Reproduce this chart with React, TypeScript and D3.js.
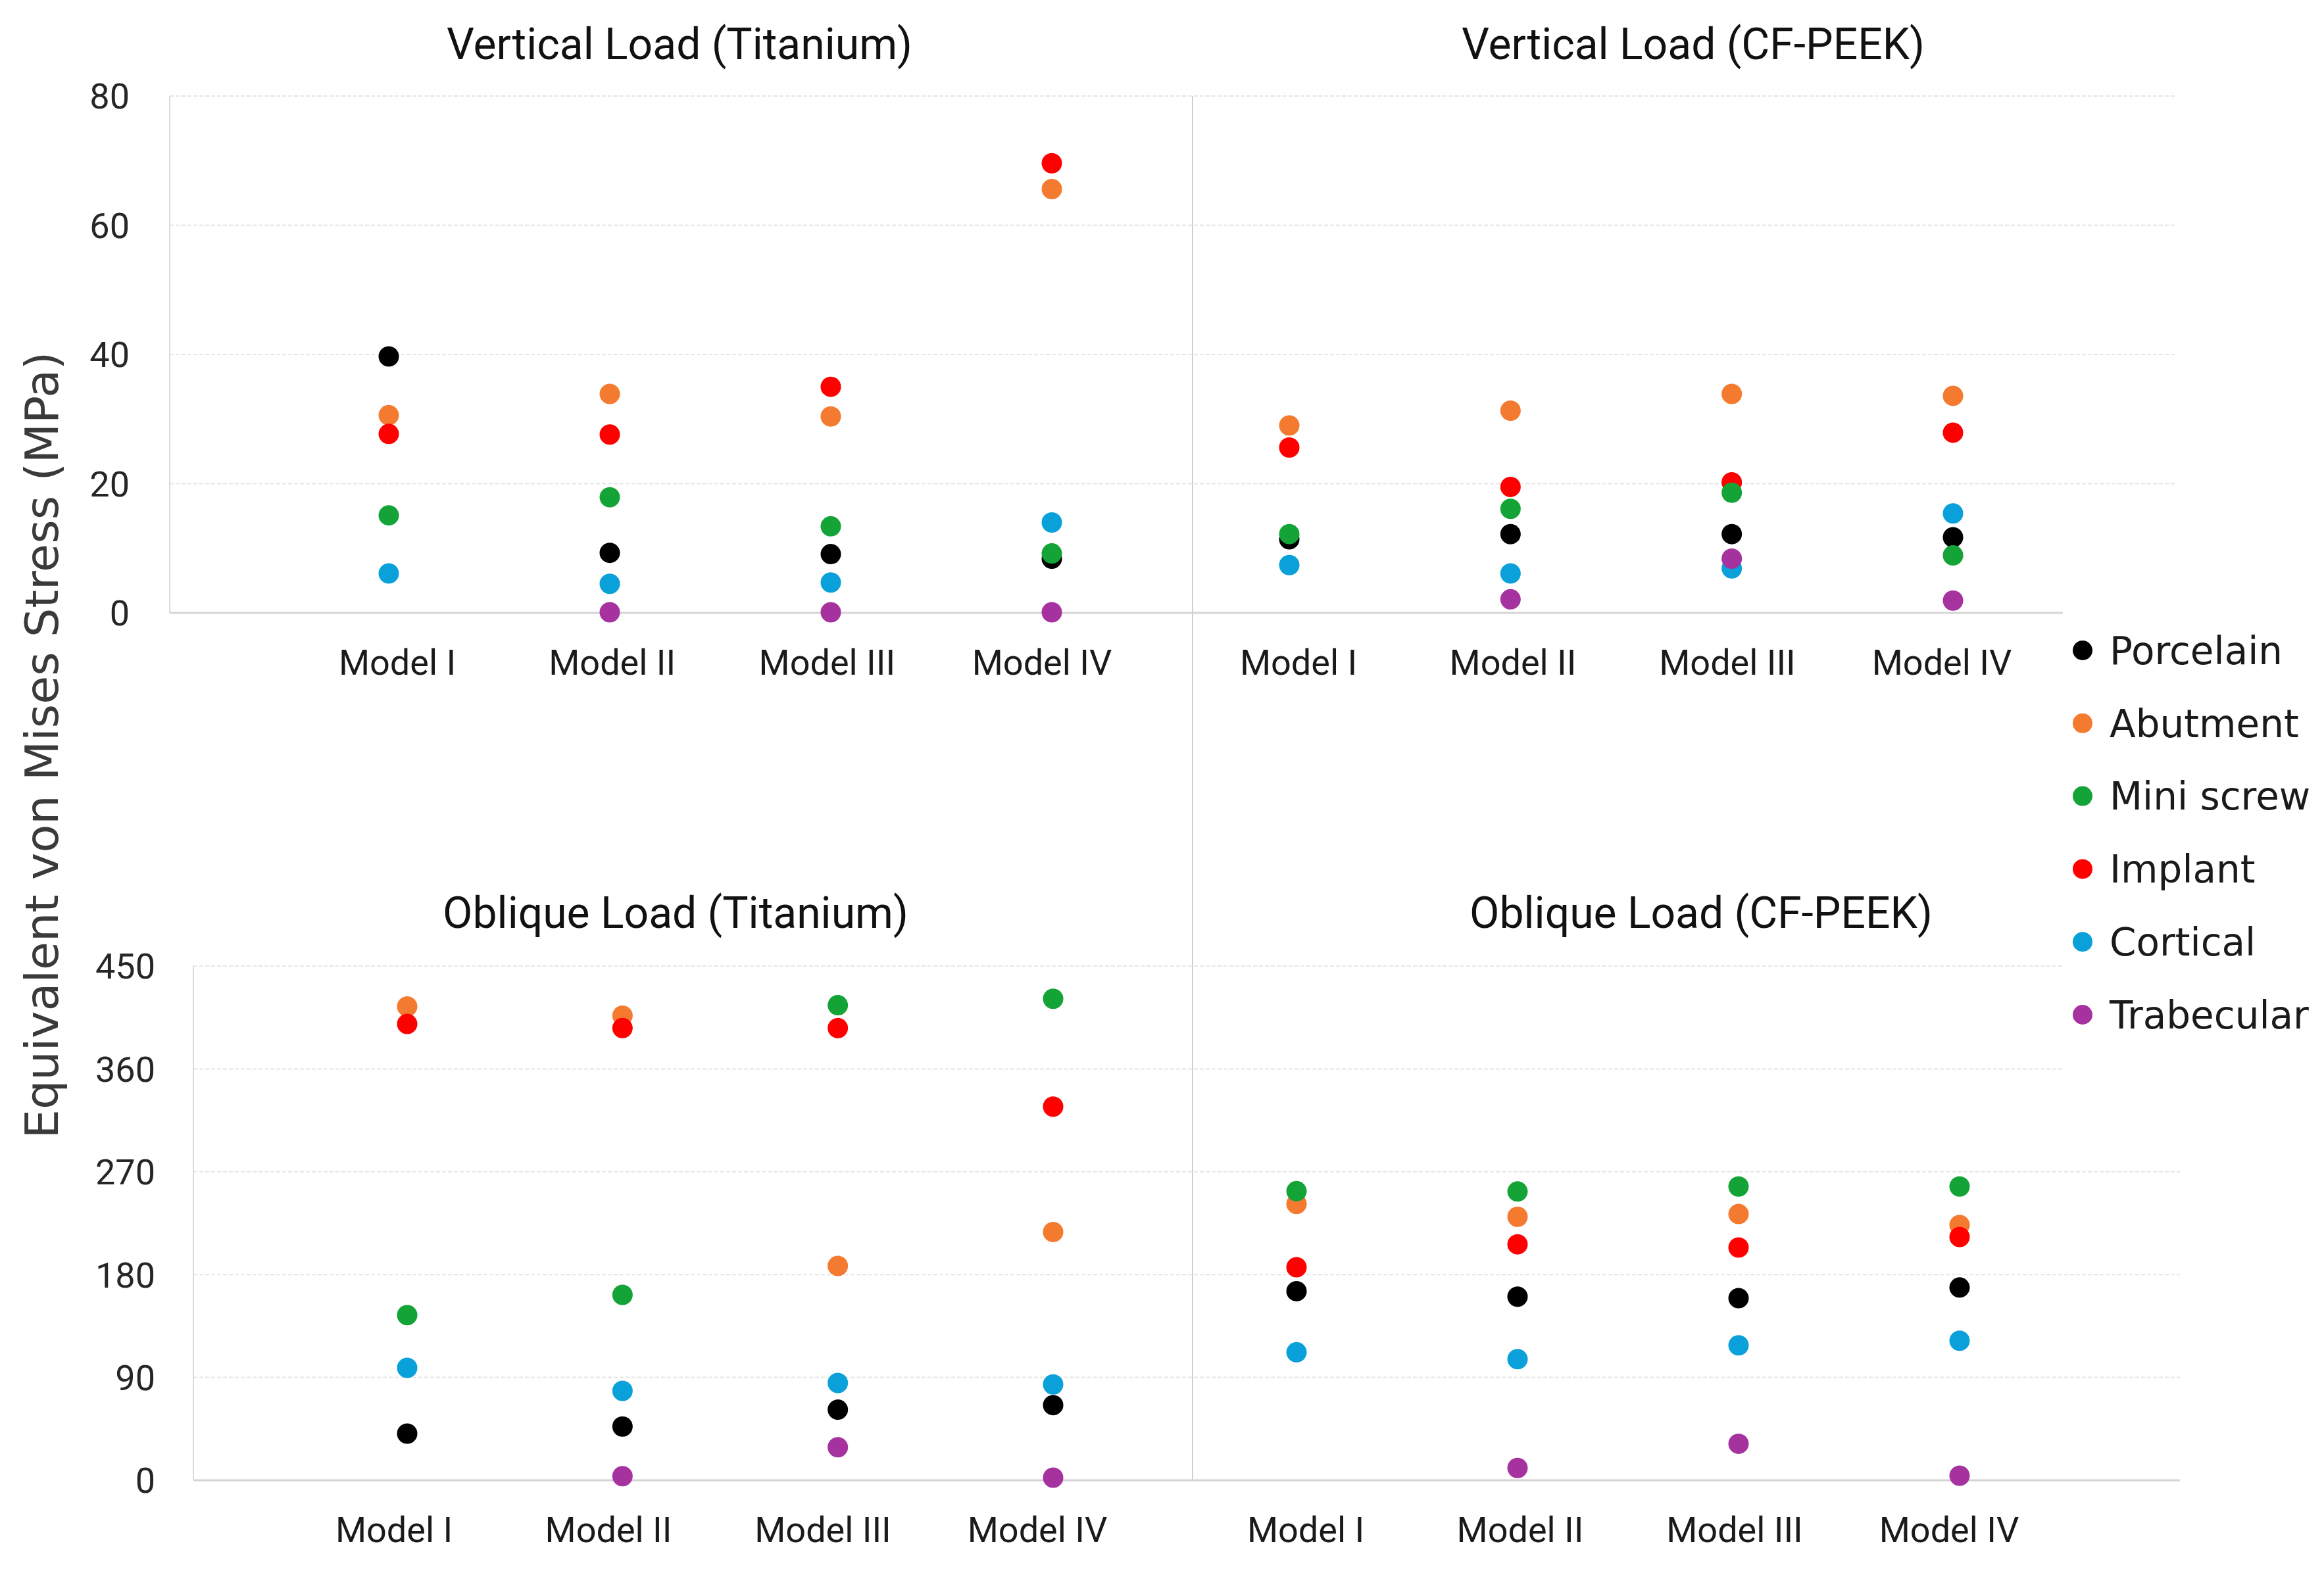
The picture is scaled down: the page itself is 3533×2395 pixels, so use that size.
import * as d3 from "d3";
import { useEffect, useRef } from "react";

const models = ["Model I", "Model II", "Model III", "Model IV"];
const components = ["Porcelain", "Abutment", "Mini screw", "Implant", "Cortical", "Trabecular"];
const componentColors = ["#000000", "#F47A30", "#14A336", "#FF0000", "#0AA0D9", "#A6329F"];
const verticalTicks = [0, 20, 40, 60, 80];
const obliqueTicks = [0, 90, 180, 270, 360, 450];

// rows follow the components order, columns follow the models
const verticalTitanium = [
	[39.7, 9.3, 9.1, 8.4],
	[30.6, 33.9, 30.4, 65.6],
	[15.1, 17.9, 13.4, 9.2],
	[27.7, 27.6, 35.0, 69.6],
	[6.1, 4.5, 4.7, 14.0],
	[null, 0.1, 0.1, 0.1],
];
const verticalPeek = [
	[11.4, 12.2, 12.2, 11.7],
	[29.0, 31.3, 33.9, 33.6],
	[12.2, 16.1, 18.6, 8.9],
	[25.6, 19.5, 20.2, 27.9],
	[7.4, 6.1, 6.9, 15.4],
	[null, 2.1, 8.4, 1.9],
];
const obliqueTitanium = [
	[40.9, 47.0, 61.8, 65.8],
	[414.6, 406.6, 187.6, 217.3],
	[144.6, 162.3, 415.8, 421.4],
	[399.3, 395.7, 395.7, 327.0],
	[98.4, 78.3, 85.2, 83.9],
	[null, 3.6, 28.9, 2.3],
];
const obliquePeek = [
	[165.5, 160.7, 159.4, 168.7],
	[241.8, 230.6, 233.0, 223.4],
	[253.0, 252.7, 257.1, 257.1],
	[186.4, 206.5, 203.7, 212.9],
	[112.0, 106.0, 118.1, 122.1],
	[null, 10.8, 32.0, 4.0],
];

// order the dots are painted in (later ones sit on top)
const drawOrder = [0, 1, 3, 2, 4, 5];

const W = 3533;
const H = 2395;
const chartFont = "Roboto, 'Liberation Sans', sans-serif";
const legendFont = "'DejaVu Sans', Verdana, sans-serif";

interface Row {
	ticks: number[];
	yRange: [number, number];
	axisX: number;
	gridEnd: number;
	tickX: number;
	labelY: number;
	titleY: number;
}

const rows: Row[] = [
	{ ticks: verticalTicks, yRange: [932, 146], axisX: 258, gridEnd: 3306, tickX: 197, labelY: 1026, titleY: 90 },
	{ ticks: obliqueTicks, yRange: [2251, 1469], axisX: 294, gridEnd: 3314, tickX: 236, labelY: 2345, titleY: 1411 },
];

const panels = [
	{ title: "Vertical Load (Titanium)", data: verticalTitanium, row: 0, xRange: [591, 1599], labelRange: [604, 1584], titleX: 1033 },
	{ title: "Vertical Load (CF-PEEK)", data: verticalPeek, row: 0, xRange: [1960, 2969], labelRange: [1974, 2952], titleX: 2574 },
	{ title: "Oblique Load (Titanium)", data: obliqueTitanium, row: 1, xRange: [619, 1601], labelRange: [599, 1577], titleX: 1027 },
	{ title: "Oblique Load (CF-PEEK)", data: obliquePeek, row: 1, xRange: [1971, 2979], labelRange: [1985, 2963], titleX: 2586 },
];

function App() {
	const ref = useRef<SVGSVGElement>(null);

	useEffect(() => {
		document.body.style.margin = "0";
		const svg = d3.select(ref.current);
		svg.selectAll("*").remove();

		svg.append("rect").attr("width", W).attr("height", H).attr("fill", "#ffffff");

		const dividerX = 1813;

		rows.forEach((row) => {
			const y = d3.scaleLinear().domain([0, row.ticks[row.ticks.length - 1]]).range(row.yRange);
			const g = svg.append("g");

			g.selectAll("line.grid")
				.data(row.ticks)
				.enter()
				.append("line")
				.attr("x1", row.axisX)
				.attr("x2", row.gridEnd)
				.attr("y1", (d) => y(d))
				.attr("y2", (d) => y(d))
				.attr("stroke", (d) => (d === 0 ? "#D4D4D4" : "#E6E6E6"))
				.attr("stroke-width", (d) => (d === 0 ? 3 : 2))
				.attr("stroke-dasharray", (d) => (d === 0 ? null : "6 3"));

			g.append("line")
				.attr("x1", row.axisX)
				.attr("x2", row.axisX)
				.attr("y1", row.yRange[0])
				.attr("y2", row.yRange[1])
				.attr("stroke", "#DADADA")
				.attr("stroke-width", 2);

			g.selectAll("text.tick")
				.data(row.ticks)
				.enter()
				.append("text")
				.attr("x", row.tickX)
				.attr("y", (d) => y(d))
				.attr("dy", "0.36em")
				.attr("text-anchor", "end")
				.style("font-family", chartFont)
				.style("font-size", "54px")
				.style("fill", "#262626")
				.text((d) => d);
		});

		svg.append("line")
			.attr("x1", dividerX)
			.attr("x2", dividerX)
			.attr("y1", rows[0].yRange[1])
			.attr("y2", rows[1].yRange[0])
			.attr("stroke", "#D0D0D0")
			.attr("stroke-width", 2);

		panels.forEach((p) => {
			const row = rows[p.row];
			const x = d3.scalePoint<string>().domain(models).range(p.xRange as [number, number]);
			const xLabel = d3.scalePoint<string>().domain(models).range(p.labelRange as [number, number]);
			const y = d3.scaleLinear().domain([0, row.ticks[row.ticks.length - 1]]).range(row.yRange);
			const g = svg.append("g");

			g.append("text")
				.attr("x", p.titleX)
				.attr("y", row.titleY)
				.attr("text-anchor", "middle")
				.style("font-family", chartFont)
				.style("font-size", "66px")
				.style("fill", "#111")
				.text(p.title);

			g.selectAll("text.model")
				.data(models)
				.enter()
				.append("text")
				.attr("x", (d) => xLabel(d)!)
				.attr("y", row.labelY)
				.attr("text-anchor", "middle")
				.style("font-family", chartFont)
				.style("font-size", "54px")
				.style("fill", "#1a1a1a")
				.text((d) => d);

			drawOrder.forEach((ci) => {
				const values = p.data[ci];
				g.selectAll(null)
					.data(models.map((m, i) => ({ model: m, value: values[i] })).filter((d) => d.value !== null))
					.enter()
					.append("circle")
					.attr("cx", (d) => x(d.model)!)
					.attr("cy", (d) => y(d.value as number))
					.attr("r", 15.5)
					.attr("fill", componentColors[ci]);
			});
		});

		// legend sits on a white patch covering the grid ends
		const legend = svg.append("g");
		legend.append("rect")
			.attr("x", 3136)
			.attr("y", 770)
			.attr("width", W - 3136)
			.attr("height", 930)
			.attr("fill", "#ffffff");
		const ly = d3.scaleLinear().domain([0, components.length - 1]).range([989, 1543]);
		components.forEach((c, i) => {
			legend.append("circle")
				.attr("cx", 3166)
				.attr("cy", ly(i))
				.attr("r", 15)
				.attr("fill", componentColors[i]);
			legend.append("text")
				.attr("x", 3207)
				.attr("y", ly(i))
				.attr("dy", "0.36em")
				.style("font-family", legendFont)
				.style("font-size", "58px")
				.style("fill", "#1a1a1a")
				.text(c);
		});

		svg.append("text")
			.attr("transform", "translate(63,1133) rotate(-90)")
			.attr("text-anchor", "middle")
			.attr("dy", "0.36em")
			.style("font-family", legendFont)
			.style("font-size", "70px")
			.style("fill", "#3a3a3a")
			.text("Equivalent von Mises Stress (MPa)");
	}, []);

	return <svg ref={ref} width={W} height={H} style={{ display: "block" }}></svg>;
}

export default App;
